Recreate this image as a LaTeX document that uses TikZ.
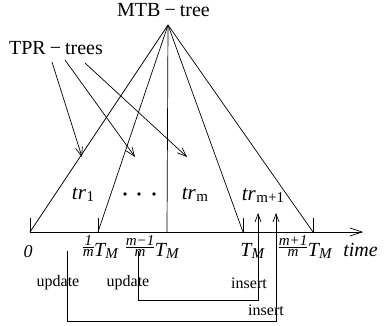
\documentclass[tikz,border=0pt]{standalone}
\usepackage{fontspec}
\setmainfont{Liberation Serif}
\usetikzlibrary{arrows.meta}
\newcommand\TMx{\textit{T}\kern-1pt\raisebox{-0.3ex}{\fontsize{15}{15}\selectfont\itshape M}}
\newcommand\trsub[1]{\textit{tr}\kern0.5pt\raisebox{-0.3ex}{\fontsize{15}{15}\selectfont #1}}
\newcommand\fracx[2]{\begingroup\fontsize{15}{15}\selectfont\itshape
  \setbox0\hbox{#1}\setbox2\hbox{#2}%
  \dimen0=\ifdim\wd0>\wd2 \wd0\else\wd2\fi
  \kern0.5pt\vbox{\hbox to\dimen0{\hss\box0\hss}\kern1.2pt\hrule height0.6pt\kern1.5pt\hbox to\dimen0{\hss\box2\hss}}\kern0.5pt\endgroup}
\begin{document}
\begin{tikzpicture}[x=1pt,y=-1pt,
  line width=0.7pt,
  lbl/.style={inner sep=0pt,font=\fontsize{20}{20}\selectfont},
  trl/.style={inner sep=0pt,anchor=base,font=\fontsize{21}{21}\selectfont},
  small/.style={inner sep=0pt,anchor=base,font=\fontsize{16}{16}\selectfont},
  big/.style={-{Straight Barb[length=9pt,width=7pt,line width=0.7pt]}},
  up/.style={-{Straight Barb[length=8pt,width=6pt,line width=0.7pt]}},
  axisarrow/.style={-{Straight Barb[length=12pt,width=8pt,line width=0.7pt]}}]
\useasboundingbox (0,0) rectangle (385,326);
% labels
\node[lbl,anchor=base] (mtb) at (163.5,17) {MTB\hspace{0.2em}\textminus\hspace{0.2em}tree};
\node[lbl,anchor=base] (tpr) at (56,55) {TPR\hspace{0.2em}\textminus\hspace{0.2em}trees};
\coordinate (apex) at (168,25);
% axis points
\coordinate (p0) at (30,232);
\coordinate (p1) at (98,232);
\coordinate (p2) at (167,232);
\coordinate (p3) at (243,232);
\coordinate (p4) at (313,232);
\coordinate (pend) at (363,232);
\draw[axisarrow] (p0) -- (pend);
\foreach \p in {p0,p1,p3,p4} \draw (\p) -- ++(0,-14);
\foreach \p in {p0,p1,p2,p3,p4} \draw (apex) -- (\p);
% TPR arrows
\coordinate (s1) at (52,62); \coordinate (e1) at (82,157);
\coordinate (s2) at (65,60); \coordinate (e2) at (135,157);
\coordinate (s3) at (85,63); \coordinate (e3) at (187,157);
\draw[big] (s1) -- (e1);
\draw[big] (s2) -- (e2);
\draw[big] (s3) -- (e3);
% tree labels
\node[trl] (tr1) at (83,199) {\trsub{1}};
\node[trl] (trm) at (195,199) {\trsub{m}};
\node[trl] (trm1) at (263,200) {\trsub{m+1}};
\foreach \x in {125,139,154} \fill (\x,194) circle (1.8);
% axis labels
\node[inner sep=0pt,anchor=base,font=\fontsize{18}{18}\selectfont\itshape] (l0) at (28,257) {0};
\node[lbl,anchor=base west] (l1) at (82,256) {\fracx{1}{m}\TMx};
\node[lbl,anchor=base west] (l2) at (125,256) {\fracx{m\textminus1}{m}\TMx};
\node[lbl,anchor=base west] (l3) at (240,256) {\TMx};
\node[lbl,anchor=base west] (l4) at (278,256) {\fracx{m+1}{m}\TMx};
\node[lbl,anchor=base west,font=\fontsize{20}{20}\selectfont\itshape] (l5) at (343,256) {time};
% update / insert
\node[small] (u1) at (58,286) {update};
\node[small] (u2) at (128,286) {update};
\node[small] (i1) at (249,288) {insert};
\node[small] (i2) at (266,315) {insert};
\coordinate (a1) at (67,251);
\coordinate (a2) at (138,251);
\coordinate (b1) at (276,213);
\coordinate (b2) at (258,213);
\draw[up] (a2) |- (258,300) -- (b2);
\draw[up] (a1) |- (276,321) -- (b1);
\end{tikzpicture}
\end{document}
